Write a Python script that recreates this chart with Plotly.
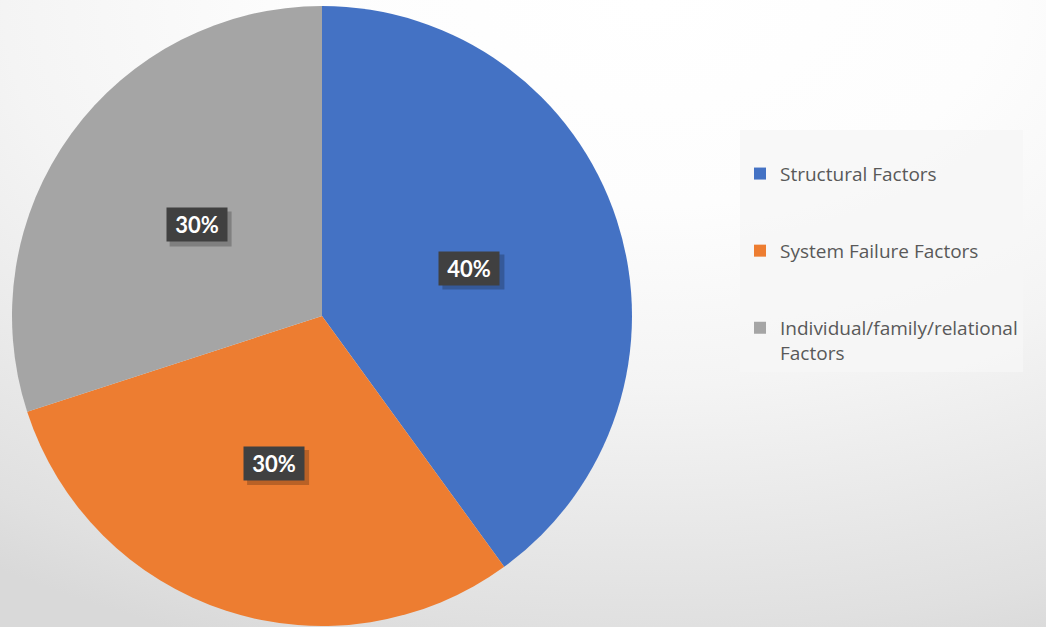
import base64
import math
import plotly.graph_objects as go

# ---- data ----
categories = ["Structural Factors", "System Failure Factors", "Individual/family/relational<br>Factors"]
values = [40, 30, 30]
colors = ["#4472C4", "#ED7D31", "#A5A5A5"]

W, H = 1046, 627
# pie domain (paper fractions)
dom_x = [12 / W, 632 / W]
dom_y = [1 / H, 621 / H]

# legend labels padded with blank lines to get the wide item spacing
legend_labels = ["<br>" + c + ("<br> " if "<br>" not in c else "") for c in categories]

fig = go.Figure()
fig.add_trace(go.Pie(
    labels=legend_labels,
    values=values,
    sort=False,
    direction="clockwise",
    rotation=0,
    marker=dict(colors=colors, line=dict(width=0)),
    textinfo="none",
    hoverinfo="label+percent",
    domain=dict(x=dom_x, y=dom_y),
    showlegend=True,
))

# percentage labels in dark boxes, placed at slice mid-angles
total = sum(values)
cx = (dom_x[0] + dom_x[1]) / 2
cy = (dom_y[0] + dom_y[1]) / 2
R_px = min((dom_x[1] - dom_x[0]) * W, (dom_y[1] - dom_y[0]) * H) / 2
box_w, box_h, sh = 62, 35, 4
cum = 0
annotations = []
shapes = []
for v in values:
    mid = (cum + v / 2) / total * 2 * math.pi
    cum += v
    r = 0.5 * R_px
    px = cx * W + r * math.sin(mid)
    py = cy * H + r * math.cos(mid)  # from bottom
    txt = f"{round(v / total * 100)}%"
    # soft shadow behind the label box
    shapes.append(dict(
        type="rect", xref="paper", yref="paper", layer="above",
        x0=(px - box_w / 2 + sh) / W, x1=(px + box_w / 2 + sh) / W,
        y0=(py - box_h / 2 - sh) / H, y1=(py + box_h / 2 - sh) / H,
        fillcolor="rgba(0,0,0,0.22)", line=dict(width=0),
    ))
    annotations.append(dict(
        x=px / W, y=py / H, xref="paper", yref="paper",
        xanchor="center", yanchor="middle",
        text="<b>" + txt + "</b>", showarrow=False,
        font=dict(family="Lato, Carlito, Arial", size=22, color="#ffffff"),
        bgcolor="#404040", borderpad=7, width=box_w - 16, height=box_h - 16,
    ))

svg = (
    "<svg xmlns='http://www.w3.org/2000/svg' width='1046' height='627' preserveAspectRatio='none'>"
    "<defs><radialGradient id='g' cx='0.62' cy='0' r='1.1' gradientUnits='objectBoundingBox'>"
    "<stop offset='0' stop-color='#ffffff'/>"
    "<stop offset='0.3' stop-color='#fdfdfd'/>"
    "<stop offset='0.56' stop-color='#f4f4f4'/>"
    "<stop offset='0.91' stop-color='#e0e0e0'/>"
    "<stop offset='1' stop-color='#d9d9d9'/>"
    "</radialGradient></defs>"
    "<rect width='1046' height='627' fill='url(#g)'/></svg>"
)
src = "data:image/svg+xml;base64," + base64.b64encode(svg.encode()).decode()

fig.update_layout(
    width=W, height=H,
    margin=dict(l=0, r=0, t=0, b=0),
    paper_bgcolor="#ffffff",
    plot_bgcolor="rgba(0,0,0,0)",
    images=[dict(source=src, xref="paper", yref="paper", x=0, y=1, sizex=1, sizey=1,
                 xanchor="left", yanchor="top", sizing="stretch", layer="below")],
    annotations=annotations,
    shapes=shapes,
    legend=dict(
        x=740 / W, y=1 - 130 / H, xanchor="left", yanchor="top",
        bgcolor="rgba(246,246,246,0.8)",
        font=dict(family="Open Sans, Lato, Arial", size=19, color="#595959"),
        traceorder="normal",
        valign="middle",
    ),
)

fig.write_html("out.html")
